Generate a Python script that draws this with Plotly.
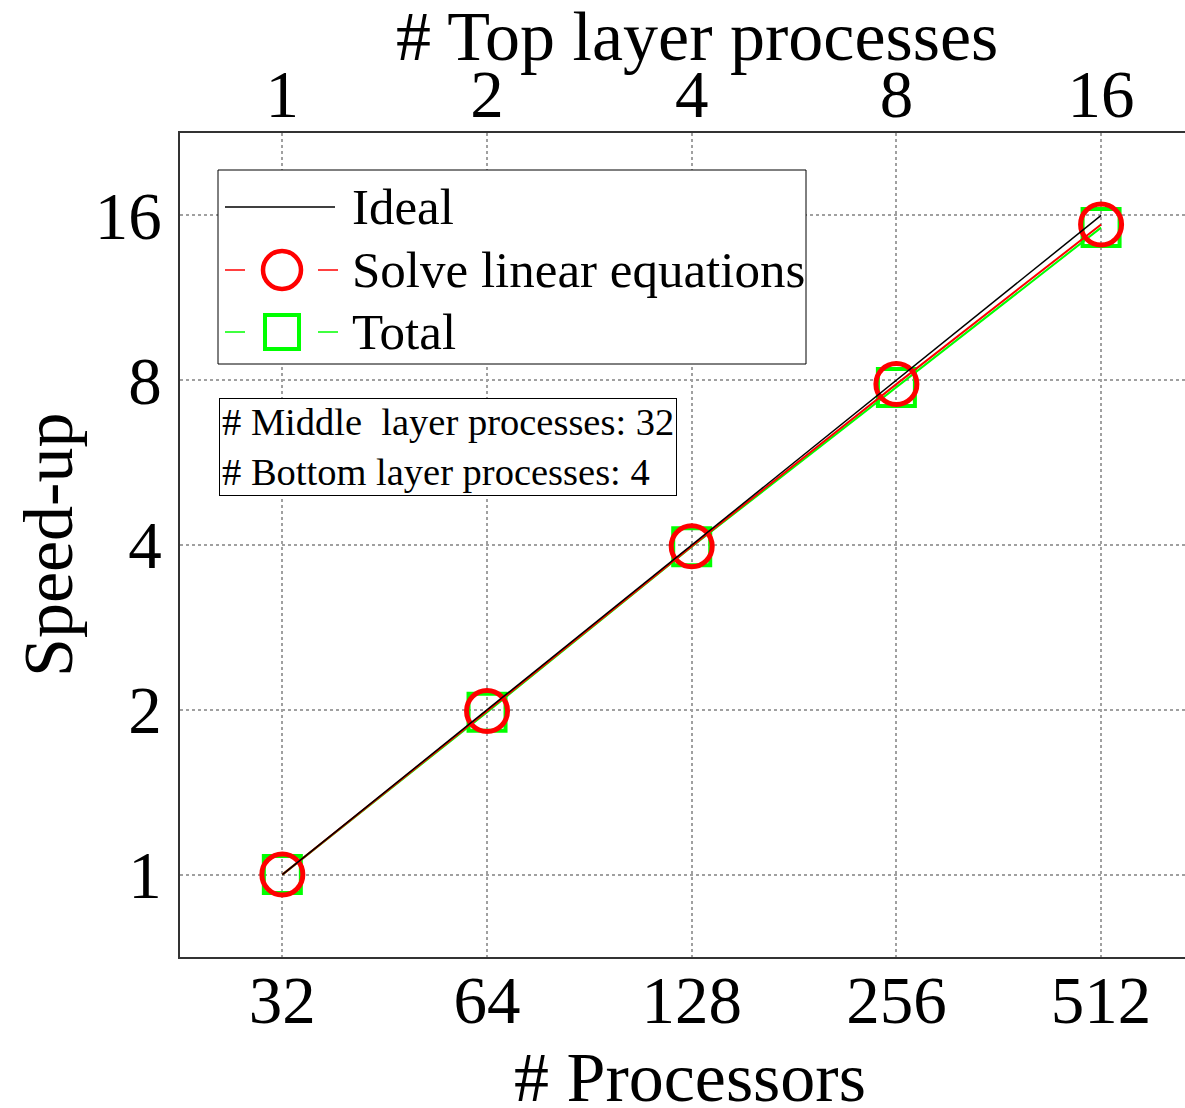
import plotly.graph_objects as go

# ---------------- data ----------------
processors = [32, 64, 128, 256, 512]
top_layer = [1, 2, 4, 8, 16]
ideal = [1, 2, 4, 8, 16]
solve_linear = [1.0, 1.99, 3.98, 7.87, 15.4]
total = [1.0, 1.98, 3.97, 7.76, 15.2]
y_ticks = [1, 2, 4, 8, 16]

# ---------------- layout helpers ----------------
W, H = 1185, 1108
L, R, T, B = 180, 1185, 133, 957
FONT = "Liberation Serif"


def px(x):
    return (x - L) / (R - L)


def py(y):
    return (B - y) / (B - T)


fig = go.Figure()

fig.add_trace(go.Scatter(
    x=processors, y=total, mode="lines+markers",
    line=dict(color="#00ff00", width=2),
    marker=dict(symbol="square-open", size=37, color="#00ff00",
                line=dict(color="#00ff00", width=4)),
    name="Total", showlegend=False, hoverinfo="x+y"))
fig.add_trace(go.Scatter(
    x=processors, y=solve_linear, mode="lines+markers",
    line=dict(color="#ff0000", width=2),
    marker=dict(symbol="circle-open", size=41, color="#ff0000",
                line=dict(color="#ff0000", width=5)),
    name="Solve linear equations", showlegend=False, hoverinfo="x+y"))
fig.add_trace(go.Scatter(
    x=processors, y=ideal, mode="lines",
    line=dict(color="black", width=1.5),
    name="Ideal", showlegend=False, hoverinfo="x+y"))
# invisible trace to activate the top axis
fig.add_trace(go.Scatter(
    x=processors, y=ideal, xaxis="x2", mode="lines",
    line=dict(color="rgba(0,0,0,0)", width=0),
    showlegend=False, hoverinfo="skip"))

xr = [1.50515 - 0.5 * 0.30103, 2.70927 + 0.41 * 0.30103]
yr = [-0.5 * 0.30103, 4.5 * 0.30103]

fig.update_layout(
    width=W, height=H,
    margin=dict(l=L, r=W - R, t=T, b=H - B, autoexpand=False),
    paper_bgcolor="white", plot_bgcolor="white",
    font=dict(family=FONT, color="black"),
    xaxis=dict(
        type="log", range=xr, tickvals=processors,
        ticktext=[str(p) for p in processors],
        tickfont=dict(size=67, family=FONT, color="black"),
        showgrid=True, gridcolor="#a0a0a0", griddash="dot", gridwidth=1.5,
        showline=True, linecolor="#333", linewidth=1.5, mirror=False,
        ticks="", zeroline=False, automargin=False,
        ticklabelstandoff=-16,
    ),
    xaxis2=dict(
        type="log", range=xr, overlaying="x", side="top", anchor="y",
        tickvals=processors, ticktext=[str(t) for t in top_layer],
        tickfont=dict(size=67, family=FONT, color="black"),
        showgrid=False, showline=True, linecolor="#333", linewidth=1.5,
        ticks="", zeroline=False, automargin=False,
        ticklabelstandoff=-13,
    ),
    yaxis=dict(
        type="log", range=yr, tickvals=y_ticks,
        ticktext=[str(v) for v in y_ticks],
        tickfont=dict(size=67, family=FONT, color="black"),
        showgrid=True, gridcolor="#a0a0a0", griddash="dot", gridwidth=1.5,
        showline=True, linecolor="#333", linewidth=1.5, mirror=False,
        ticks="", zeroline=False, automargin=False,
        ticklabelstandoff=3,
    ),
    showlegend=False,
)

# ---------------- manual legend ----------------
shapes = []
shapes.append(dict(type="rect", xref="paper", yref="paper",
                   x0=px(218), x1=px(806), y0=py(364), y1=py(170),
                   line=dict(color="black", width=1), fillcolor="white", layer="above"))
# Ideal
shapes.append(dict(type="line", xref="paper", yref="paper",
                   x0=px(225), x1=px(335), y0=py(207), y1=py(207),
                   line=dict(color="black", width=1.5), layer="above"))
# Solve linear equations
for a, b in [(225, 245), (318, 338)]:
    shapes.append(dict(type="line", xref="paper", yref="paper",
                       x0=px(a), x1=px(b), y0=py(270), y1=py(270),
                       line=dict(color="#ff0000", width=1.5), layer="above"))
shapes.append(dict(type="circle", xref="paper", yref="paper",
                   x0=px(282 - 19), x1=px(282 + 19), y0=py(270 + 19), y1=py(270 - 19),
                   line=dict(color="#ff0000", width=4.5), layer="above"))
# Total
for a, b in [(225, 245), (318, 338)]:
    shapes.append(dict(type="line", xref="paper", yref="paper",
                       x0=px(a), x1=px(b), y0=py(332), y1=py(332),
                       line=dict(color="#00ff00", width=1.5), layer="above"))
shapes.append(dict(type="rect", xref="paper", yref="paper",
                   x0=px(282 - 17), x1=px(282 + 17), y0=py(332 + 17), y1=py(332 - 17),
                   line=dict(color="#00ff00", width=4), layer="above"))
fig.update_layout(shapes=shapes)

annotations = []
for label, yy in [("Ideal", 207), ("Solve linear equations", 270), ("Total", 332)]:
    annotations.append(dict(text=label, xref="paper", yref="paper",
                            x=px(350), y=py(yy), xanchor="left", yanchor="middle",
                            showarrow=False, font=dict(size=51, family=FONT, color="black")))

annotations.append(dict(
    text="# Middle&nbsp; layer processes: 32<br># Bottom layer processes: 4",
    xref="paper", yref="paper", x=px(219), y=py(398), xanchor="left", yanchor="top",
    align="left", showarrow=False, bgcolor="white", bordercolor="black",
    borderwidth=1, borderpad=2, font=dict(size=38.5, family=FONT, color="black")))

# axis titles
title_font = dict(size=70, family=FONT, color="black")
annotations.append(dict(text="# Processors", xref="paper", yref="paper",
                        x=px(690), y=py(1077), xanchor="center", yanchor="middle",
                        showarrow=False, font=title_font))
annotations.append(dict(text="# Top layer processes", xref="paper", yref="paper",
                        x=px(697), y=py(36), xanchor="center", yanchor="middle",
                        showarrow=False, font=title_font))
annotations.append(dict(text="Speed-up", xref="paper", yref="paper",
                        x=px(48), y=py(545), xanchor="center", yanchor="middle",
                        textangle=-90, showarrow=False, font=title_font))
fig.update_layout(annotations=annotations)

fig.write_html("out.html")
